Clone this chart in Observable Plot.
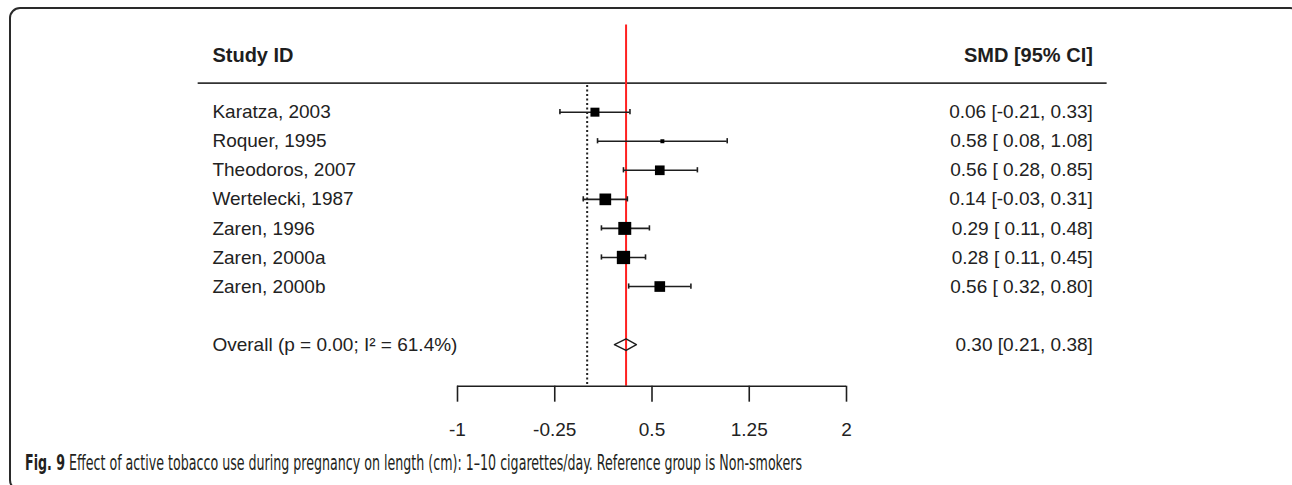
<!DOCTYPE html>
<html>
<head>
<meta charset="utf-8">
<script src="https://cdn.jsdelivr.net/npm/d3@7"></script>
<script src="https://cdn.jsdelivr.net/npm/@observablehq/plot@0.6"></script>
<style>
  html, body { margin: 0; padding: 0; background: #fff; }
  body { width: 1292px; height: 485px; position: relative; overflow: hidden; }
  #chart { position: absolute; left: 0; top: 0; }
  #frame {
    position: absolute; left: 9px; top: 7px; width: 1292px; height: 484px;
    border: 2px solid #2a2a2a; border-radius: 11px; box-sizing: border-box; pointer-events: none;
  }
  #caption {
    position: absolute; left: 25px; top: 451px; white-space: nowrap;
    font-family: "Liberation Sans Narrow", "DejaVu Sans Condensed", "Open Sans", sans-serif;
    font-size: 21px; line-height: 24px; color: #231f20; transform-origin: 0 0;
  }
  #caption b { font-weight: bold; }
</style>
</head>
<body>
<div id="chart"></div>
<div id="frame"></div>
<div id="caption"><b>Fig. 9</b> Effect of active tobacco use during pregnancy on length (cm): 1–10 cigarettes/day. Reference group is Non-smokers</div>
<script>
// ---- data ----
const studies = ["Karatza, 2003", "Roquer, 1995", "Theodoros, 2007", "Wertelecki, 1987", "Zaren, 1996", "Zaren, 2000a", "Zaren, 2000b"];
const smd     = [0.06, 0.58, 0.56, 0.14, 0.29, 0.28, 0.56];
const ciLow   = [-0.21, 0.08, 0.28, -0.03, 0.11, 0.11, 0.32];
const ciHigh  = [0.33, 1.08, 0.85, 0.31, 0.48, 0.45, 0.80];
const weights = [10.3, 2.0, 11.9, 17.4, 21.4, 22.5, 14.5];
const overallLabel = "Overall (p = 0.00; I\u00B2 = 61.4%)";
const overallEst = 0.30, overallLow = 0.21, overallHigh = 0.38;
const headerLeft = "Study ID";
const headerRight = "SMD [95% CI]";
const tickValues = [-1, -0.25, 0.5, 1.25, 2];
const tickLabels = ["-1", "-0.25", "0.5", "1.25", "2"];

// ---- layout (data units of the scales) ----
const OVERALL_ROW = 9, HEADER_ROW = -0.95, HEADER_RULE_ROW = 0, TOP_ROW = -2, AXIS_ROW = 10.43;
const COL_LEFT = -2.89, COL_RIGHT = 3.90, RULE_LEFT = -3.0, RULE_RIGHT = 4.01;

const f2 = d3.formatLocale({decimal: ".", thousands: ",", grouping: [3], currency: ["", ""], minus: "-"}).format(".2f");
const pad = v => (v < 0 ? "" : " ") + f2(v);

const rows = studies.map((s, i) => ({
  study: s, row: i + 1, est: smd[i], lo: ciLow[i], hi: ciHigh[i], w: weights[i],
  label: `${f2(smd[i])} [${pad(ciLow[i])}, ${f2(ciHigh[i])}]`
}));
const overall = {study: overallLabel, row: OVERALL_ROW, est: overallEst, lo: overallLow, hi: overallHigh,
  label: `${f2(overallEst)} [${f2(overallLow)}, ${f2(overallHigh)}]`};
const diamond = [
  {x: overall.lo, y: overall.row}, {x: overall.est, y: overall.row - 0.2},
  {x: overall.hi, y: overall.row}, {x: overall.est, y: overall.row + 0.2},
  {x: overall.lo, y: overall.row}
];
const ticks = tickValues.map((v, i) => ({v, label: tickLabels[i]}));
const ink = "#1e1e1e";

const chart = Plot.plot({
  width: 1292, height: 450,
  marginLeft: 457, marginRight: 446, marginTop: 24.5, marginBottom: 64.3,
  x: {domain: [-1, 2], axis: null},
  y: {domain: [TOP_ROW, AXIS_ROW], reverse: true, axis: null},
  r: {type: "sqrt", domain: [0, 22.5], range: [0, 7.5]},
  style: {fontFamily: "'Liberation Sans', Arial, sans-serif", color: ink, background: "transparent", overflow: "visible"},
  marks: [
    // header
    Plot.text([headerLeft], {x: COL_LEFT, y: HEADER_ROW, text: d => d, textAnchor: "start", fontSize: 20, fontWeight: "bold", fill: ink}),
    Plot.text([headerRight], {x: COL_RIGHT, y: HEADER_ROW, text: d => d, textAnchor: "end", fontSize: 20, fontWeight: "bold", fill: ink}),
    Plot.ruleY([HEADER_RULE_ROW], {x1: RULE_LEFT, x2: RULE_RIGHT, stroke: "#333", strokeWidth: 1.8}),
    // null line
    Plot.ruleX([0], {y1: HEADER_RULE_ROW + 0.08, y2: AXIS_ROW, stroke: "#222", strokeWidth: 2, strokeDasharray: "2,2.5"}),
    // overall effect line
    Plot.ruleX([overall.est], {y1: TOP_ROW, y2: AXIS_ROW, stroke: "#ff2020", strokeWidth: 2}),
    // CIs
    Plot.ruleY(rows, {y: "row", x1: "lo", x2: "hi", stroke: ink, strokeWidth: 1.6}),
    Plot.ruleX(rows, {x: "lo", y1: d => d.row - 0.09, y2: d => d.row + 0.09, stroke: ink, strokeWidth: 1.6}),
    Plot.ruleX(rows, {x: "hi", y1: d => d.row - 0.09, y2: d => d.row + 0.09, stroke: ink, strokeWidth: 1.6}),
    Plot.dot(rows, {x: "est", y: "row", r: "w", symbol: "square", fill: "#000", stroke: "none"}),
    // overall diamond
    Plot.line(diamond, {x: "x", y: "y", stroke: ink, strokeWidth: 1.4, fill: "none"}),
    // left/right columns
    Plot.text([...rows, overall], {x: COL_LEFT, y: "row", text: "study", textAnchor: "start", fontSize: 19, fill: "#222"}),
    Plot.text([...rows, overall], {x: COL_RIGHT, y: "row", text: "label", textAnchor: "end", fontSize: 19, fill: "#222"}),
    // axis
    Plot.ruleY([AXIS_ROW], {x1: tickValues[0], x2: tickValues[tickValues.length - 1], stroke: ink, strokeWidth: 1.6}),
    Plot.ruleX(ticks, {x: "v", y1: AXIS_ROW, y2: AXIS_ROW + 0.55, stroke: ink, strokeWidth: 1.6}),
    Plot.text(ticks, {x: "v", y: AXIS_ROW + 1.52, text: "label", fontSize: 19, fill: "#222"})
  ]
});
document.getElementById("chart").appendChild(chart);

// fit the condensed caption to its measured width in the reference
const cap = document.getElementById("caption");
const w = cap.getBoundingClientRect().width;
const target = 777;
cap.style.transform = `scaleX(${target / w})`;
</script>
</body>
</html>
